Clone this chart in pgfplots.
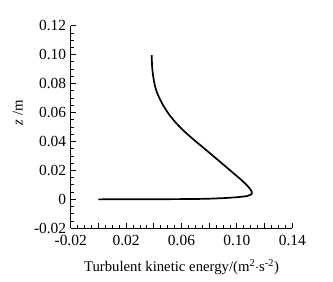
\documentclass[border=0pt]{standalone}
\usepackage{pgfplots}
\pgfplotsset{compat=1.18}
\usepackage{fontspec}
\setmainfont{Liberation Serif}
\begin{document}
\begin{tikzpicture}
\path[use as bounding box] (-70.7bp,-53.7bp) rectangle (262.3bp,228.3bp);
\begin{axis}[
  at={(0,0)}, anchor=south west,
  scale only axis, width=221.6bp, height=202.6bp,
  xmin=-0.02, xmax=0.14, ymin=-0.02, ymax=0.12,
  axis lines=left, axis line style={-, line width=1.1bp},
  tick align=inside, tick style={black, line width=0.8bp},
  major tick length=5bp, minor tick length=3bp,
  xtick={-0.02,0,0.02,0.04,0.06,0.08,0.10,0.12,0.14},
  xticklabels={-0.02,,0.02,,0.06,,0.10,,0.14},
  ytick={-0.02,0,0.02,0.04,0.06,0.08,0.10,0.12},
  yticklabels={-0.02,0,0.02,0.04,0.06,0.08,0.10,0.12},
  minor tick num=3,
  ticklabel style={font=\fontsize{15.5}{17}\selectfont},
  xticklabel style={yshift=-3bp},
  yticklabel style={xshift=-1bp},
  label style={font=\fontsize{14.8}{17}\selectfont},
  xlabel={Turbulent kinetic energy/(m\textsuperscript{2}$\cdot$s\textsuperscript{-2})},
  ylabel={\textit{z} /m},
  xlabel style={at={(axis description cs:0.5,0)}, anchor=center, yshift=-39bp},
  ylabel style={at={(axis description cs:-0.238,0.57)}, anchor=center},
  clip=false,
]
\addplot[black, line width=1.7bp, smooth, tension=0.6] coordinates {
(0.0,0.0)
(0.0625,0.0002)
(0.0866,0.0007)
(0.1035,0.0018)
(0.1095,0.0030)
(0.1107,0.0053)
(0.1058,0.0111)
(0.0948,0.0203)
(0.0800,0.0323)
(0.0655,0.0440)
(0.0575,0.0513)
(0.0505,0.0594)
(0.0447,0.0687)
(0.0410,0.0778)
(0.0390,0.0894)
(0.0385,0.0997)
};
\end{axis}
\end{tikzpicture}
\end{document}
